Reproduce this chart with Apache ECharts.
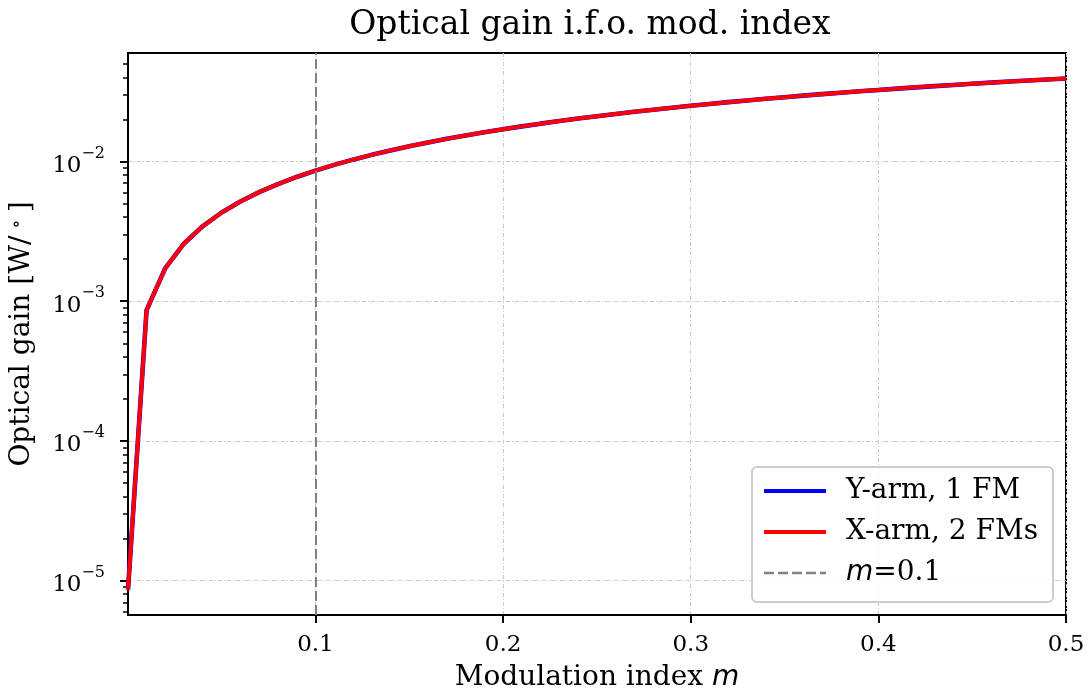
<!DOCTYPE html>
<html>
<head>
<meta charset="utf-8">
<title>Optical gain i.f.o. mod. index</title>
<script src="https://cdn.jsdelivr.net/npm/echarts@6/dist/echarts.min.js"></script>
<style>
  html, body { margin: 0; padding: 0; background: #ffffff; }
  #chart { width: 1089px; height: 693px; }
</style>
</head>
<body>
<div id="chart"></div>
<script>
// Modulation index values (x)
const modIndex = [
  0.0001, 0.01, 0.02, 0.03, 0.04, 0.05, 0.06, 0.07, 0.08, 0.09,
  0.10, 0.11, 0.12, 0.13, 0.14, 0.15, 0.16, 0.17, 0.18, 0.19,
  0.20, 0.21, 0.22, 0.23, 0.24, 0.25, 0.26, 0.27, 0.28, 0.29,
  0.30, 0.31, 0.32, 0.33, 0.34, 0.35, 0.36, 0.37, 0.38, 0.39,
  0.40, 0.41, 0.42, 0.43, 0.44, 0.45, 0.46, 0.47, 0.48, 0.49, 0.50
];

// Optical gain [W/deg], Y-arm with one frequency modulator
const gainYArm = [
  8.64e-6, 8.640e-4, 1.728e-3, 2.591e-3, 3.454e-3, 4.316e-3, 5.177e-3, 6.037e-3, 6.895e-3, 7.752e-3,
  8.608e-3, 9.461e-3, 1.0312e-2, 1.1161e-2, 1.2007e-2, 1.2851e-2, 1.3692e-2, 1.4530e-2, 1.5364e-2, 1.6195e-2,
  1.7022e-2, 1.7846e-2, 1.8665e-2, 1.9481e-2, 2.0292e-2, 2.1098e-2, 2.1900e-2, 2.2697e-2, 2.3489e-2, 2.4275e-2,
  2.5056e-2, 2.5832e-2, 2.6601e-2, 2.7365e-2, 2.8123e-2, 2.8875e-2, 2.9620e-2, 3.0358e-2, 3.1090e-2, 3.1815e-2,
  3.2533e-2, 3.3243e-2, 3.3946e-2, 3.4642e-2, 3.5330e-2, 3.6011e-2, 3.6683e-2, 3.7347e-2, 3.8004e-2, 3.8651e-2,
  3.9291e-2
];

// Optical gain [W/deg], X-arm with two frequency modulators
const gainXArm = [
  8.64e-6, 8.640e-4, 1.728e-3, 2.591e-3, 3.454e-3, 4.316e-3, 5.177e-3, 6.037e-3, 6.895e-3, 7.752e-3,
  8.608e-3, 9.461e-3, 1.0312e-2, 1.1161e-2, 1.2007e-2, 1.2851e-2, 1.3692e-2, 1.4530e-2, 1.5364e-2, 1.6195e-2,
  1.7022e-2, 1.7846e-2, 1.8665e-2, 1.9481e-2, 2.0292e-2, 2.1098e-2, 2.1900e-2, 2.2697e-2, 2.3489e-2, 2.4275e-2,
  2.5056e-2, 2.5832e-2, 2.6601e-2, 2.7365e-2, 2.8123e-2, 2.8875e-2, 2.9620e-2, 3.0358e-2, 3.1090e-2, 3.1815e-2,
  3.2533e-2, 3.3243e-2, 3.3946e-2, 3.4642e-2, 3.5330e-2, 3.6011e-2, 3.6683e-2, 3.7347e-2, 3.8004e-2, 3.8651e-2,
  3.9291e-2
];

// Reference modulation index marked by the dashed line
const mRef = 0.1;

// Axis ticks
const xTicks = [0.1, 0.2, 0.3, 0.4, 0.5];
const yMajorTicks = [1e-5, 1e-4, 1e-3, 1e-2];
const yMinorTicks = [
  6e-6, 7e-6, 8e-6, 9e-6,
  2e-5, 3e-5, 4e-5, 5e-5, 6e-5, 7e-5, 8e-5, 9e-5,
  2e-4, 3e-4, 4e-4, 5e-4, 6e-4, 7e-4, 8e-4, 9e-4,
  2e-3, 3e-3, 4e-3, 5e-3, 6e-3, 7e-3, 8e-3, 9e-3,
  2e-2, 3e-2, 4e-2, 5e-2
];

const xRange = [0.0001, 0.5];
const yRange = [5.68e-6, 5.98e-2];

const SERIF = '"DejaVu Serif", serif';
const SANS = '"DejaVu Sans", sans-serif';

const toPairs = (xs, ys) => xs.map((x, i) => [x, ys[i]]);

const chart = echarts.init(document.getElementById('chart'), null, { renderer: 'canvas' });

const gridLine = { show: true, lineStyle: { color: '#c8c8c8', width: 1, type: [4, 2, 1, 2] } };
const DASH = [10, 4];

const option = {
  backgroundColor: '#ffffff',
  animation: false,
  title: {
    text: 'Optical gain i.f.o. mod. index',
    left: 585, top: 4, textAlign: 'center',
    textStyle: { fontFamily: SERIF, fontWeight: 'normal', fontSize: 33, color: '#000' }
  },
  grid: {
    left: 128, right: 23, top: 53, bottom: 78,
    outerBoundsMode: 'none',
    show: true, borderColor: '#000', borderWidth: 2, backgroundColor: 'transparent'
  },
  legend: {
    orient: 'vertical',
    right: 36, bottom: 91,
    itemWidth: 62, itemHeight: 14, itemGap: 13,
    padding: [10, 15, 15, 10],
    backgroundColor: 'rgba(255,255,255,0.85)',
    borderColor: '#cccccc', borderWidth: 2, borderRadius: 5,
    itemStyle: { opacity: 0 },
    data: [
      { name: 'Y-arm, 1 FM', lineStyle: { width: 4 } },
      { name: 'X-arm, 2 FMs', lineStyle: { width: 4 } },
      { name: 'm=0.1', lineStyle: { width: 2.5, type: DASH } }
    ],
    formatter: name => name === 'm=0.1' ? '{i|m}=0.1' : name,
    textStyle: {
      fontFamily: SERIF, fontSize: 28, color: '#000', padding: [0, 0, 0, 15],
      rich: { i: { fontFamily: SANS, fontStyle: 'italic', fontSize: 28, color: '#000' } }
    }
  },
  xAxis: {
    type: 'value', min: xRange[0], max: xRange[1],
    name: '{n|Modulation index }{i|m}', nameLocation: 'middle', nameGap: 49,
    nameTextStyle: {
      rich: {
        n: { fontFamily: SERIF, fontSize: 28, color: '#000' },
        i: { fontFamily: SANS, fontStyle: 'italic', fontSize: 28, color: '#000' }
      }
    },
    axisLine: { show: true, lineStyle: { color: '#000', width: 2 } },
    axisTick: { show: true, customValues: xTicks, length: 8, lineStyle: { color: '#000', width: 2 } },
    axisLabel: {
      customValues: xTicks, margin: 19,
      fontFamily: SERIF, fontSize: 23, color: '#000',
      formatter: v => String(Math.round(v * 10) / 10)
    },
    splitLine: gridLine
  },
  yAxis: [
    {
      type: 'log', min: yRange[0], max: yRange[1], logBase: 10,
      name: '{n|Optical gain [W/}{d|∘}{n|]}', nameLocation: 'middle', nameGap: 92,
      nameTextStyle: {
        rich: {
          n: { fontFamily: SERIF, fontSize: 28, color: '#000' },
          d: { fontFamily: SERIF, fontSize: 19, color: '#000', verticalAlign: 'top', padding: [0, 7, 8, 7] }
        }
      },
      axisLine: { show: true, lineStyle: { color: '#000', width: 2 } },
      axisTick: { show: true, customValues: yMajorTicks, length: 8, lineStyle: { color: '#000', width: 2 } },
      axisLabel: {
        customValues: yMajorTicks, margin: 23,
        formatter: v => '{b|10}{s|\u2212' + Math.round(-Math.log10(v)) + '}',
        rich: {
          b: { fontFamily: SERIF, fontSize: 23, color: '#000', lineHeight: 32, verticalAlign: 'bottom' },
          s: { fontFamily: SERIF, fontSize: 16, color: '#000', verticalAlign: 'top', lineHeight: 16 }
        }
      },
      splitLine: gridLine
    },
    {
      // minor ticks of the log axis
      type: 'log', min: yRange[0], max: yRange[1], logBase: 10, position: 'left',
      axisLine: { show: false },
      axisTick: { show: true, customValues: yMinorTicks, length: 5, lineStyle: { color: '#000', width: 1.5 } },
      axisLabel: { show: false },
      splitLine: { show: false }
    }
  ],
  series: [
    {
      name: 'Y-arm, 1 FM', type: 'line', data: toPairs(modIndex, gainYArm),
      showSymbol: false, symbol: 'none', color: '#0000ff',
      lineStyle: { color: '#0000ff', width: 4.6 }, z: 3
    },
    {
      name: 'X-arm, 2 FMs', type: 'line', data: toPairs(modIndex, gainXArm),
      showSymbol: false, symbol: 'none', color: '#ff0000',
      lineStyle: { color: '#ff0000', width: 4 }, z: 4
    },
    {
      name: 'm=0.1', type: 'line', data: [], symbol: 'none', color: '#808080',
      lineStyle: { color: '#808080', width: 2, type: DASH },
      markLine: {
        silent: true, symbol: 'none', label: { show: false },
        lineStyle: { color: '#808080', width: 2, type: DASH },
        data: [{ xAxis: mRef }]
      },
      z: 2
    }
  ]
};

chart.setOption(option);
</script>
</body>
</html>
